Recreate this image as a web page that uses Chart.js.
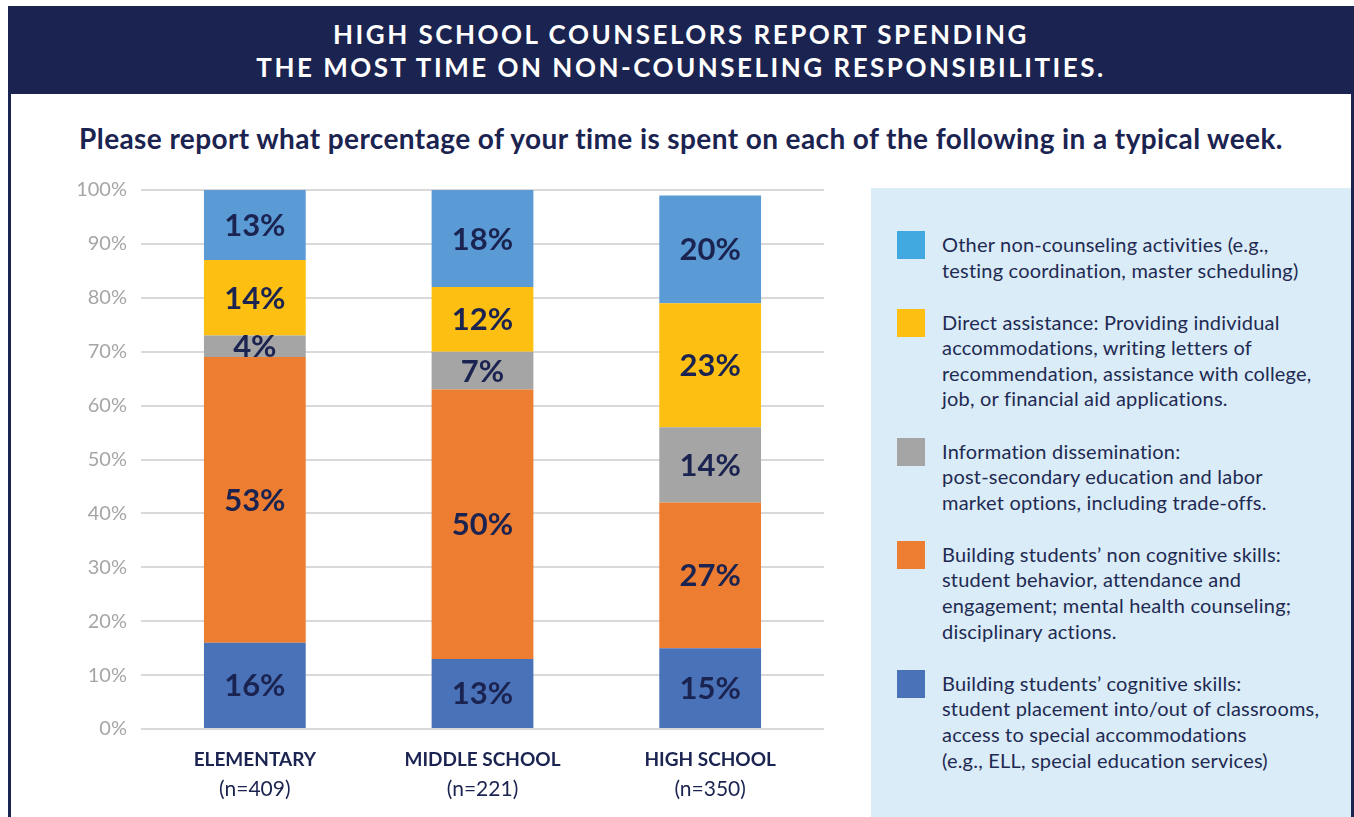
<!DOCTYPE html>
<html>
<head>
<meta charset="utf-8">
<title>Counselor time allocation</title>
<script src="https://cdn.jsdelivr.net/npm/chart.js@4.4.0/dist/chart.umd.min.js"></script>
<style>
  html, body { margin: 0; padding: 0; background: #ffffff; width: 1354px; height: 817px; overflow: hidden; }
  body { position: relative; font-family: Lato, "Noto Sans", sans-serif; }
  #frame { position: absolute; left: 8px; top: 94px; width: 1346px; height: 723px;
           border-left: 3px solid #1b2350; border-right: 3px solid #1b2350; box-sizing: border-box; }
  #header { position: absolute; left: 8px; top: 6px; width: 1346px; height: 88px; background: #1b2350;
            color: #ffffff; text-align: center; font-weight: 700; font-size: 26px; line-height: 33px;
            letter-spacing: 2.5px; padding-top: 12px; box-sizing: border-box; }
  #subtitle { position: absolute; left: 0; top: 120px; width: 1362px; text-align: center; color: #1b2350;
              font-weight: 700; font-size: 28px; line-height: 36px; letter-spacing: 0.4px; }
  #legendBox { position: absolute; left: 871px; top: 188px; width: 480px; height: 629px; background: #daecf7;
               padding-top: 43px; box-sizing: border-box; }
  .item { position: relative; margin-bottom: 25.5px; padding-left: 71px; }
  .swatch { position: absolute; left: 26px; top: 0; width: 28px; height: 28px; }
  .text { color: #1e2a52; font-size: 20px; line-height: 25.6px; letter-spacing: 0.2px; padding-top: 1px; white-space: nowrap; }
  #chartWrap { position: absolute; left: 0; top: 0; width: 860px; height: 817px; }
</style>
</head>
<body>
<div id="frame"></div>
<div id="header"></div>
<div id="subtitle"></div>
<div id="legendBox"></div>
<div id="chartWrap"><canvas id="chart" width="860" height="817"></canvas></div>
<script>
// Headline and question text
const headlineLines = ['HIGH SCHOOL COUNSELORS REPORT SPENDING', 'THE MOST TIME ON NON-COUNSELING RESPONSIBILITIES.'];
const questionText = 'Please report what percentage of your time is spent on each of the following in a typical week.';

// Categories (school level) and sample sizes
const categories = ['ELEMENTARY', 'MIDDLE SCHOOL', 'HIGH SCHOOL'];
const sampleSizes = ['(n=409)', '(n=221)', '(n=350)'];

// Share of time (%) per activity, bottom of the stack first
const cognitiveSkills = [16, 13, 15];
const nonCognitiveSkills = [53, 50, 27];
const informationDissemination = [4, 7, 14];
const directAssistance = [14, 12, 23];
const otherActivities = [13, 18, 20];

// Y axis tick values
const yTickValues = [0, 10, 20, 30, 40, 50, 60, 70, 80, 90, 100];

// Legend descriptions, one entry per line
const cognitiveLegend = ['Building students\u2019 cognitive skills:', 'student placement into/out of classrooms,', 'access to special accommodations', '(e.g., ELL, special education services)'];
const nonCognitiveLegend = ['Building students\u2019 non cognitive skills:', 'student behavior, attendance and', 'engagement; mental health counseling;', 'disciplinary actions.'];
const informationLegend = ['Information dissemination:', 'post-secondary education and labor', 'market options, including trade-offs.'];
const directLegend = ['Direct assistance: Providing individual', 'accommodations, writing letters of', 'recommendation, assistance with college,', 'job, or financial aid applications.'];
const otherLegend = ['Other non-counseling activities (e.g.,', 'testing coordination, master scheduling)'];

const NAVY = '#1b2350';
const series = [
  { name: 'Building students\u2019 cognitive skills', data: cognitiveSkills, color: '#4a72b8', swatch: '#4a72b8', legend: cognitiveLegend },
  { name: 'Building students\u2019 non cognitive skills', data: nonCognitiveSkills, color: '#ed7d31', swatch: '#ed7d31', legend: nonCognitiveLegend },
  { name: 'Information dissemination', data: informationDissemination, color: '#a5a5a5', swatch: '#a5a5a5', legend: informationLegend },
  { name: 'Direct assistance', data: directAssistance, color: '#fdc012', swatch: '#fdc012', legend: directLegend },
  { name: 'Other non-counseling activities', data: otherActivities, color: '#5b9bd5', swatch: '#41a9e0', legend: otherLegend }
];

// Page text
document.getElementById('header').innerHTML = headlineLines.map(l => '<div>' + l + '</div>').join('');
document.getElementById('subtitle').textContent = questionText;

// Legend, top of the stack first
const legendBox = document.getElementById('legendBox');
series.slice().reverse().forEach(s => {
  const item = document.createElement('div');
  item.className = 'item';
  const sw = document.createElement('div');
  sw.className = 'swatch';
  sw.style.background = s.swatch;
  const tx = document.createElement('div');
  tx.className = 'text';
  tx.innerHTML = s.legend.map(l => '<div>' + l + '</div>').join('');
  item.appendChild(sw);
  item.appendChild(tx);
  legendBox.appendChild(item);
});

// Percent labels centred in each bar segment
const segmentLabels = {
  id: 'segmentLabels',
  afterDatasetsDraw(chart) {
    const ctx = chart.ctx;
    ctx.save();
    ctx.font = 'bold 31px Lato, "Noto Sans", sans-serif';
    ctx.fillStyle = NAVY;
    ctx.textAlign = 'center';
    ctx.textBaseline = 'middle';
    chart.data.datasets.forEach((ds, i) => {
      chart.getDatasetMeta(i).data.forEach((bar, j) => {
        ctx.fillText(ds.data[j] + '%', bar.x, (bar.y + bar.base) / 2 + 1);
      });
    });
    ctx.restore();
  }
};

// Two-line category labels: bold name, regular sample size
const categoryLabels = {
  id: 'categoryLabels',
  afterDraw(chart) {
    const ctx = chart.ctx;
    const xs = chart.scales.x;
    ctx.save();
    ctx.fillStyle = NAVY;
    ctx.textAlign = 'center';
    ctx.textBaseline = 'middle';
    categories.forEach((c, i) => {
      const x = xs.getPixelForValue(i);
      ctx.font = 'bold 19px Lato, "Noto Sans", sans-serif';
      ctx.fillText(c, x, xs.top + 31);
      ctx.font = '21px Lato, "Noto Sans", sans-serif';
      ctx.fillText(sampleSizes[i], x, xs.top + 60);
    });
    ctx.restore();
  }
};

new Chart(document.getElementById('chart'), {
  type: 'bar',
  data: {
    labels: categories,
    datasets: series.map(s => ({
      label: s.name,
      data: s.data,
      backgroundColor: s.color,
      borderWidth: 0,
      categoryPercentage: 1,
      barPercentage: 0.447
    }))
  },
  options: {
    responsive: false,
    animation: false,
    layout: { padding: { top: 190, right: 36, bottom: 0, left: 0 } },
    plugins: { legend: { display: false }, tooltip: { enabled: false } },
    scales: {
      x: {
        stacked: true,
        grid: { display: false },
        border: { display: false },
        ticks: { display: false },
        afterFit(scale) { scale.height = 88; }
      },
      y: {
        stacked: true,
        min: 0,
        max: 100,
        afterBuildTicks(scale) { scale.ticks = yTickValues.map(v => ({ value: v })); },
        ticks: {
          callback: v => v + '%',
          color: '#a6a6a6',
          padding: 14,
          font: { family: 'Lato, "Noto Sans", sans-serif', size: 20 }
        },
        grid: { color: '#d9d9d9', lineWidth: 2, drawTicks: false },
        border: { display: false },
        afterFit(scale) { scale.width = 141; }
      }
    }
  },
  plugins: [segmentLabels, categoryLabels]
});
</script>
</body>
</html>
